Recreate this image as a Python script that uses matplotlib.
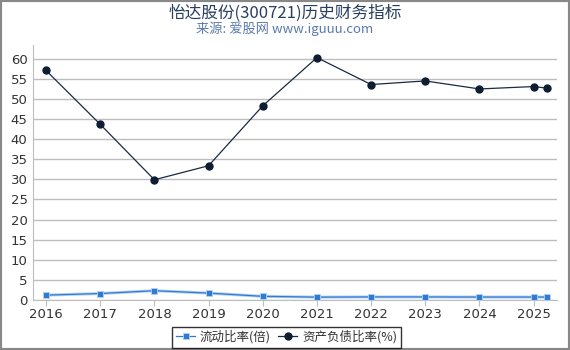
import matplotlib
matplotlib.use("Agg")
import matplotlib.pyplot as plt
from matplotlib.patches import Rectangle

plt.rcParams['font.family'] = ['DejaVu Sans', 'Noto Sans CJK SC']

x_pos = [2016, 2017, 2018, 2019, 2020, 2021, 2022, 2023, 2024, 2025, 2025.25]
tick_years = [2016, 2017, 2018, 2019, 2020, 2021, 2022, 2023, 2024, 2025]
current_ratio = [1.2, 1.6, 2.3, 1.7, 0.9, 0.7, 0.75, 0.75, 0.72, 0.72, 0.72]
debt_ratio = [57.1, 43.7, 29.9, 33.4, 48.3, 60.3, 53.6, 54.5, 52.5, 53.1, 52.7]
yticks = list(range(0, 61, 5))

fig = plt.figure(figsize=(5.7, 3.5), dpi=100)
ax = fig.add_axes([0.058, 0.143, 0.919, 0.728])

ax.plot(x_pos, current_ratio, color='#b5d2f3', lw=2.2, zorder=2)
ax.plot(x_pos, current_ratio, color='#2f7ad3', lw=0.9, marker='s', ms=5,
        markerfacecolor='#2f7ad3', markeredgecolor='#b5d2f3', markeredgewidth=0.6,
        label='流动比率(倍)', zorder=3)
ax.plot(x_pos, debt_ratio, color='#1b2a44', lw=0.9, marker='o', ms=5,
        markerfacecolor='#0f1d33', markeredgecolor='#0f1d33',
        label='资产负债比率(%)', zorder=3)

ax.set_xlim(2015.76, 2025.43)
ax.set_ylim(0, 63.4)
ax.set_yticks(yticks)
ax.set_xticks(tick_years)
ax.set_xticklabels([str(y) for y in tick_years])
ax.grid(axis='y', color='#bdbdbd', lw=1)
ax.set_axisbelow(True)
for s in ['top', 'right']:
    ax.spines[s].set_visible(False)
ax.spines['left'].set_color('#bdbdbd')
ax.spines['bottom'].set_color('#bdbdbd')
ax.tick_params(axis='y', length=0, labelsize=9.5, colors='#333333', pad=4)
ax.tick_params(axis='x', length=4, color='#bdbdbd', labelsize=9.5, colors='#333333', pad=2)
for lab in ax.get_xticklabels() + ax.get_yticklabels():
    lab.set_color('#333333')

fig.text(0.5, 0.962, '怡达股份(300721)历史财务指标', ha='center', va='center',
         fontsize=12, color='#2a3f5f', family=['Noto Sans CJK SC', 'DejaVu Sans'])
fig.text(0.5, 0.917, '来源: 爱股网 www.iguuu.com', ha='center', va='center',
         fontsize=9.5, color='#5a7aa8', family=['Noto Sans CJK SC', 'DejaVu Sans'])

leg = fig.legend(loc='center', bbox_to_anchor=(0.503, 0.037), ncol=2, frameon=True,
                 prop={'family': ['Noto Sans CJK SC', 'DejaVu Sans'], 'size': 9},
                 handlelength=1.5, handletextpad=0.4, columnspacing=0.6,
                 borderpad=0.3, fancybox=False, markerscale=1.0)
leg.get_frame().set_edgecolor('black')
leg.get_frame().set_linewidth(1)
for t in leg.get_texts():
    t.set_color('#333333')

fig.patches.append(Rectangle((0, 0), 1, 1, transform=fig.transFigure, fill=False,
                             edgecolor='#888888', lw=3))

fig.savefig('out.png', dpi=100)
